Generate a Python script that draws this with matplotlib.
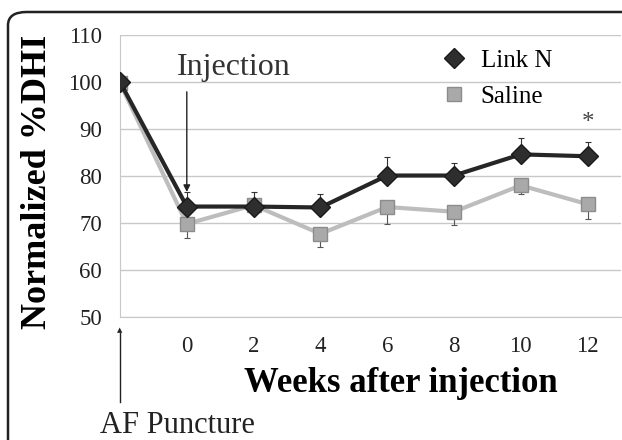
import matplotlib.pyplot as plt
from matplotlib.patches import FancyBboxPatch

weeks = [-2, 0, 2, 4, 6, 8, 10, 12]
tick_weeks = [0, 2, 4, 6, 8, 10, 12]
link_n = [100.0, 73.5, 73.5, 73.3, 80.1, 80.1, 84.6, 84.2]
link_n_err = [0.0, 3.2, 3.2, 2.9, 3.9, 2.6, 3.4, 3.0]
saline = [99.8, 69.8, 73.8, 67.7, 73.4, 72.4, 78.0, 74.0]
saline_err = [0.0, 2.9, 0.0, 2.9, 3.6, 2.9, 1.9, 3.1]
y_ticks = [50, 60, 70, 80, 90, 100, 110]

serif = ['Liberation Serif', 'DejaVu Serif']

fig = plt.figure(figsize=(6.22, 4.40), dpi=100)
ax = fig.add_axes([120 / 622, 1 - 317 / 440, 501 / 622, 282 / 440])

# rounded frame around the figure, running off the right and bottom edges
frame = FancyBboxPatch((8 / 622, -0.1), 1.2, 1 - 12 / 440 + 0.1,
                       boxstyle='round,pad=0,rounding_size=0.03',
                       transform=fig.transFigure, fill=False,
                       edgecolor='#222222', linewidth=1.8)
fig.patches.append(frame)

ax.errorbar(weeks, link_n, yerr=[[0] * len(weeks), link_n_err], fmt='none',
            ecolor='#333333', elinewidth=0.8, capsize=2.5, capthick=0.8, zorder=2)
ax.errorbar(weeks, saline, yerr=[saline_err, [0] * len(weeks)], fmt='none',
            ecolor='#555555', elinewidth=0.8, capsize=2.5, capthick=0.8, zorder=2)

ax.plot(weeks, saline, color='#bdbdbd', linewidth=3, marker='s', markersize=9.5,
        markerfacecolor='#a9a9a9', markeredgecolor='#8c8c8c', label='Saline', zorder=3)
ax.plot(weeks, link_n, color='#262626', linewidth=3, marker='D', markersize=10,
        markerfacecolor='#2e2e2e', markeredgecolor='#1a1a1a', label='Link N', zorder=4)

ax.set_xlim(-2, 13)
ax.set_ylim(50, 110)
ax.set_yticks(y_ticks)
ax.set_xticks(tick_weeks)
ax.grid(axis='y', color='#c8c8c8', linewidth=1)
ax.set_axisbelow(True)
for s in ['top', 'right']:
    ax.spines[s].set_visible(False)
ax.spines['left'].set_color('#c8c8c8')
ax.spines['bottom'].set_color('#c8c8c8')
ax.tick_params(length=0, labelsize=16.5)
ax.tick_params(axis='y', pad=13)
ax.tick_params(axis='x', pad=14)
for lab in ax.get_xticklabels() + ax.get_yticklabels():
    lab.set_family(serif)
    lab.set_color('#222222')

fig.text(38 / 622, 1 - 182 / 440, 'Normalized %DHI', rotation=90, ha='center', va='center',
         fontsize=26, fontweight='bold', family=serif)
fig.text(401 / 622, 1 - 383 / 440, 'Weeks after injection', ha='center', va='center',
         fontsize=25, fontweight='bold', family=serif)

# Injection annotation
ax.annotate('', xy=(0, 73.5 + 2.5), xytext=(0, 98.5),
            arrowprops=dict(arrowstyle='-|>', color='#222222', lw=1, mutation_scale=10))
ax.text(1.4, 103, 'Injection', ha='center', va='center', fontsize=23,
        family=serif, color='#333333')

# AF puncture annotation
fig.add_artist(plt.Line2D([120 / 622, 120 / 622], [1 - 402 / 440, 1 - 333 / 440],
                          color='#222222', lw=1, transform=fig.transFigure))
fig.text(120 / 622, 1 - 327 / 440, '\u25b2', ha='center', va='top', fontsize=5,
         color='#222222', transform=fig.transFigure)
fig.text(100 / 622, 1 - 440 / 440, 'AF Puncture', ha='left', va='bottom', fontsize=22,
         family=serif, color='#222222')

ax.text(12, 91.3, '*', ha='center', va='center', fontsize=18, family=serif, color='#444444')

handles, labels = ax.get_legend_handles_labels()
leg = ax.legend(handles[::-1], labels[::-1], loc='upper left', bbox_to_anchor=(0.6, 1.03),
                frameon=False, handlelength=0.9, handletextpad=0.6, labelspacing=0.55,
                prop={'family': serif, 'size': 18})
for h in leg.legend_handles:
    h.set_linestyle('none')

fig.savefig('out.png', dpi=100)
